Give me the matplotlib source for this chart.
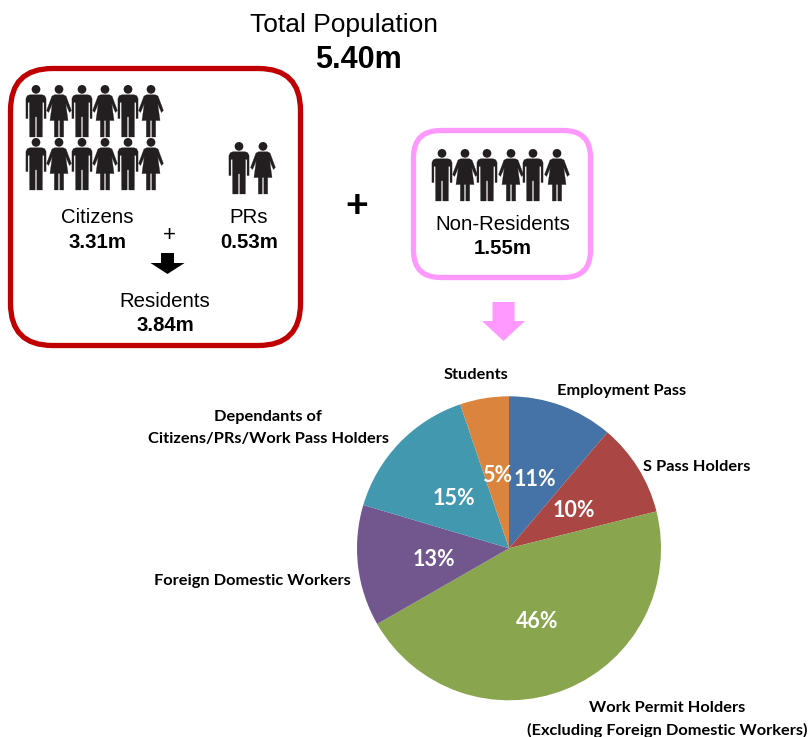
import matplotlib
matplotlib.use("Agg")
import matplotlib.pyplot as plt
from matplotlib.patches import FancyBboxPatch, Polygon, Circle

W, H = 811, 737

# pie data
segments = ["Employment Pass", "S Pass Holders", "Work Permit Holders", "Foreign Domestic Workers", "Dependants", "Students"]
shares = [11.2, 9.9, 45.6, 12.9, 15.2, 5.2]
seg_colors = ["#4673a7", "#aa4744", "#89a54e", "#72578f", "#4298af", "#db843d"]

# population figures
total = "5.40m"
citizens = "3.31m"
prs = "0.53m"
residents = "3.84m"
non_residents = "1.55m"

plt.rcParams['font.family'] = ['Liberation Sans', 'DejaVu Sans']

fig = plt.figure(figsize=(W / 100, H / 100), dpi=100)
ax = fig.add_axes([0, 0, 1, 1])
ax.set_xlim(0, W)
ax.set_ylim(H, 0)
ax.axis('off')

ICON = "#231f20"
MAN = [(0, 29), (18, 29), (26, 32), (30, 40), (30, 100), (24, 100), (24, 52), (19.5, 52), (19, 155), (2.5, 155), (2.5, 95)]
WOMAN = [(0, 29), (13, 29), (21, 33), (37, 76), (31, 82), (20, 56), (27, 106), (14, 106), (14, 155), (2.5, 155), (2.5, 106)]


def person(cx, top, shape, height=52):
    s = height / 155
    right = [(cx + x * s, top + y * s) for x, y in shape]
    left = [(cx - x * s, top + y * s) for x, y in reversed(shape)]
    ax.add_patch(Polygon(right + left, closed=True, fc=ICON, ec=ICON, lw=0.2, joinstyle='round'))
    ax.add_patch(Circle((cx, top + 13 * s), 13 * s, fc=ICON, ec='none'))


def down_arrow(cx, stem_w, head_w, y0, y1, y2, color):
    pts = [(cx - stem_w / 2, y0), (cx + stem_w / 2, y0), (cx + stem_w / 2, y1), (cx + head_w / 2, y1),
           (cx, y2), (cx - head_w / 2, y1), (cx - stem_w / 2, y1)]
    ax.add_patch(Polygon(pts, closed=True, fc=color, ec='none'))


def box(x0, y0, x1, y1, r, color):
    ax.add_patch(FancyBboxPatch((x0 + r, y0 + r), x1 - x0 - 2 * r, y1 - y0 - 2 * r,
                                boxstyle=f"round,pad={r},rounding_size={r}",
                                fc='white', ec=color, lw=3.8))


box(10.5, 68.5, 300.5, 345.5, 42, "#c00000")
box(413.5, 130.5, 590.5, 277.5, 27, "#ff99ff")

# icons
for top in [85, 138]:
    for cx in [36, 82, 128]:
        person(cx, top, MAN)
    for cx in [59, 105, 151]:
        person(cx, top, WOMAN)
person(239, 142, MAN)
person(263, 142, WOMAN)
for cx in [442, 487, 533]:
    person(cx, 149, MAN)
for cx in [465, 511, 557]:
    person(cx, 149, WOMAN)

down_arrow(167.5, 13, 34, 253, 263, 274, "black")
down_arrow(503.5, 22, 43, 302, 321, 341, "#ff99ff")

# text blocks
def label(x, y, s, size=14.7, weight='normal', **kw):
    ax.text(x, y, s, fontsize=size, fontweight=weight, ha='center', va='center', **kw)


label(344, 25, "Total Population", size=19)
label(358, 60, total, size=22, weight='bold')
label(97.5, 217, "Citizens")
label(97.5, 242, citizens, weight='bold')
label(249, 217, "PRs")
label(249, 242, prs, weight='bold')
label(169, 235, "+", size=16)
label(165, 301, "Residents")
label(165, 325, residents, weight='bold')
label(503, 224, "Non-Residents")
label(503, 248, non_residents, weight='bold')
label(357, 207, "+", size=28, weight='bold')

# pie
cx, cy, r = 509, 548.3, 152
pie_ax = fig.add_axes([(cx - r) / W, 1 - (cy + r) / H, 2 * r / W, 2 * r / H])
wedges, _, pct = pie_ax.pie(shares, colors=seg_colors, startangle=90, counterclock=False, radius=1,
                            autopct='%.0f%%', pctdistance=0.5, center=(0, -0.016))
pie_ax.set_xlim(-1, 1)
pie_ax.set_ylim(-1, 1)
for w in wedges:
    w.set_center((0, 0))
for t in pct:
    t.set(color='white', fontsize=15.5, fontweight='bold', family='Lato')

pie_labels = [
    (476, 375, "Students"),
    (622, 391, "Employment Pass"),
    (697, 467, "S Pass Holders"),
    (268, 417, "Dependants of"),
    (268, 439, "Citizens/PRs/Work Pass Holders"),
    (252, 581, "Foreign Domestic Workers"),
    (667, 708, "Work Permit Holders"),
    (667, 730, "(Excluding Foreign Domestic Workers)"),
]
for x, y, s in pie_labels:
    label(x, y, s, size=11.8, weight='bold', family='Lato')

fig.savefig("out.png", dpi=100)
